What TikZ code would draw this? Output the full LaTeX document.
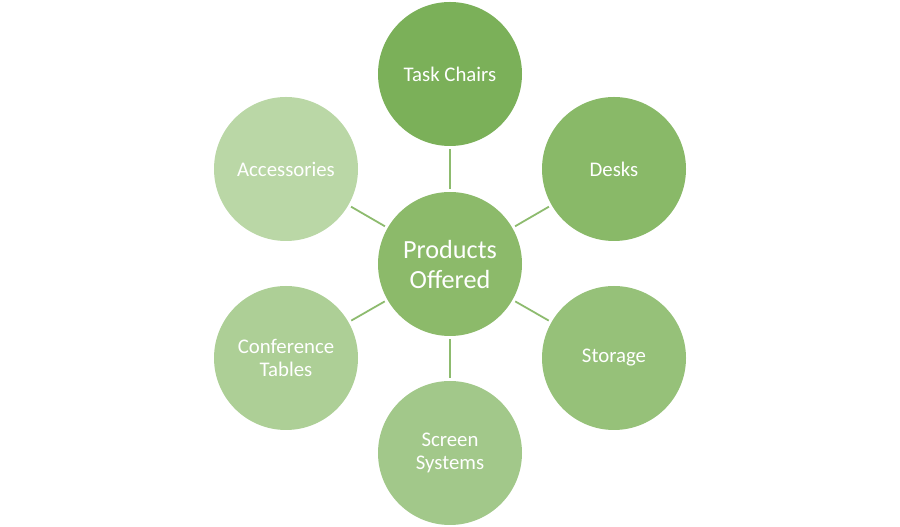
\documentclass[tikz,border=0pt]{standalone}
\usepackage{fontspec}
\setmainfont{Carlito}
\definecolor{cCenter}{HTML}{8CBA6A}
\definecolor{cTask}{HTML}{7BB059}
\definecolor{cDesk}{HTML}{89B968}
\definecolor{cStor}{HTML}{96C179}
\definecolor{cScr}{HTML}{A2C88A}
\definecolor{cConf}{HTML}{ADCF96}
\definecolor{cAcc}{HTML}{BAD7A6}
\definecolor{cLine}{HTML}{8DBB6E}
\tikzset{
  bubble/.style={circle, minimum size=144pt, inner sep=0pt, text=white, align=center,
    font=\fontsize{20.8}{23.5}\selectfont},
  hub/.style={bubble, fill=cCenter, font=\fontsize{26.2}{30}\selectfont},
  link/.style={draw=cLine, line width=1.8pt, shorten <=3pt, shorten >=3pt}
}
\begin{document}
\begin{tikzpicture}[x=1pt,y=1pt]
\useasboundingbox (0,0) rectangle (900,527);
\node[hub] (c) at (450,263) {Products\\Offered};
\node[bubble, fill=cTask] (t) at (450,453) {Task Chairs};
\node[bubble, fill=cDesk] (d) at (614,358) {Desks};
\node[bubble, fill=cStor] (s) at (614,169) {Storage};
\node[bubble, fill=cScr] (sc) at (450,74) {Screen\\Systems};
\node[bubble, fill=cConf] (cf) at (286,169) {Conference\\Tables};
\node[bubble, fill=cAcc] (a) at (286,358) {Accessories};
\foreach \n in {t,d,s,sc,cf,a} \draw[link] (c) -- (\n);
\end{tikzpicture}
\end{document}
